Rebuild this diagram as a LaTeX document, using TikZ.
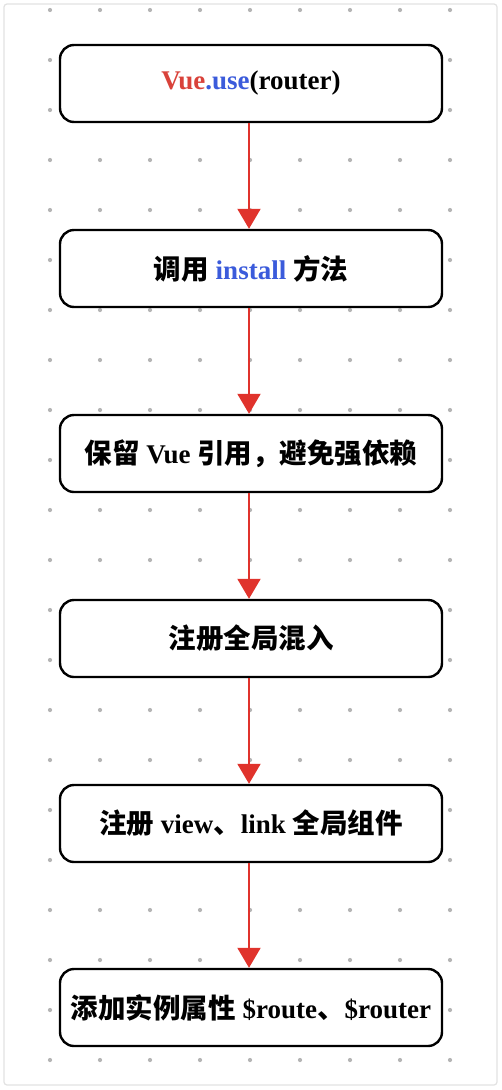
\documentclass[tikz,border=0pt]{standalone}
\usepackage{fontspec}
\setmainfont{Liberation Serif}
\newfontfamily\cjk{Noto Sans CJK SC}
\usetikzlibrary{arrows.meta}
\definecolor{vred}{HTML}{D9423A}
\definecolor{vblue}{HTML}{3B5BDB}
\definecolor{arrred}{HTML}{E0332C}
\definecolor{dotgray}{HTML}{B5B5B5}
\definecolor{framegray}{HTML}{E2E2E2}
\newcommand{\zh}[1]{{\cjk\bfseries\fontsize{27.5}{30}\selectfont #1}}
\begin{document}
\begin{tikzpicture}[x=1pt,y=-1pt,
  stepbox/.style={draw=black, line width=2.4pt, rounded corners=14pt, fill=white,
    minimum width=382pt, minimum height=77pt, inner sep=0pt,
    font=\bfseries\fontsize{27}{30}\selectfont, align=center, text=black},
  flow/.style={draw=arrred, line width=2pt, -{Triangle[width=23pt,length=20pt]}}]
\useasboundingbox (0,0) rectangle (502,1090);
\fill[white] (0,0) rectangle (502,1090);
\draw[framegray, line width=1.2pt, rounded corners=3pt] (4,4) rectangle (497,1085);
\foreach \x in {50,100,...,450}
  \foreach \y in {10,60,...,1060}
    \fill[dotgray] (\x,\y) circle (2.1pt);

\node[stepbox] (b1) at (251,83.5) {\textcolor{vred}{Vue}\textcolor{vblue}{.use}(router)};
\node[stepbox] (b2) at (251,268.5) {\zh{调用} \textcolor{vblue}{install} \zh{方法}};
\node[stepbox] (b3) at (251,453.5) {\zh{保留} Vue \zh{引用，避免强依赖}};
\node[stepbox] (b4) at (251,638.5) {\zh{注册全局混入}};
\node[stepbox] (b5) at (251,823.5) {\zh{注册} view\zh{、}link \zh{全局组件}};
\node[stepbox] (b6) at (251,1007.5) {\zh{添加实例属性} \$route\zh{、}\$router};

\draw[flow] (b1.south -| 249,0) -- (b2.north -| 249,0);
\draw[flow] (b2.south -| 249,0) -- (b3.north -| 249,0);
\draw[flow] (b3.south -| 249,0) -- (b4.north -| 249,0);
\draw[flow] (b4.south -| 249,0) -- (b5.north -| 249,0);
\draw[flow] (b5.south -| 249,0) -- (b6.north -| 249,0);
\end{tikzpicture}
\end{document}
